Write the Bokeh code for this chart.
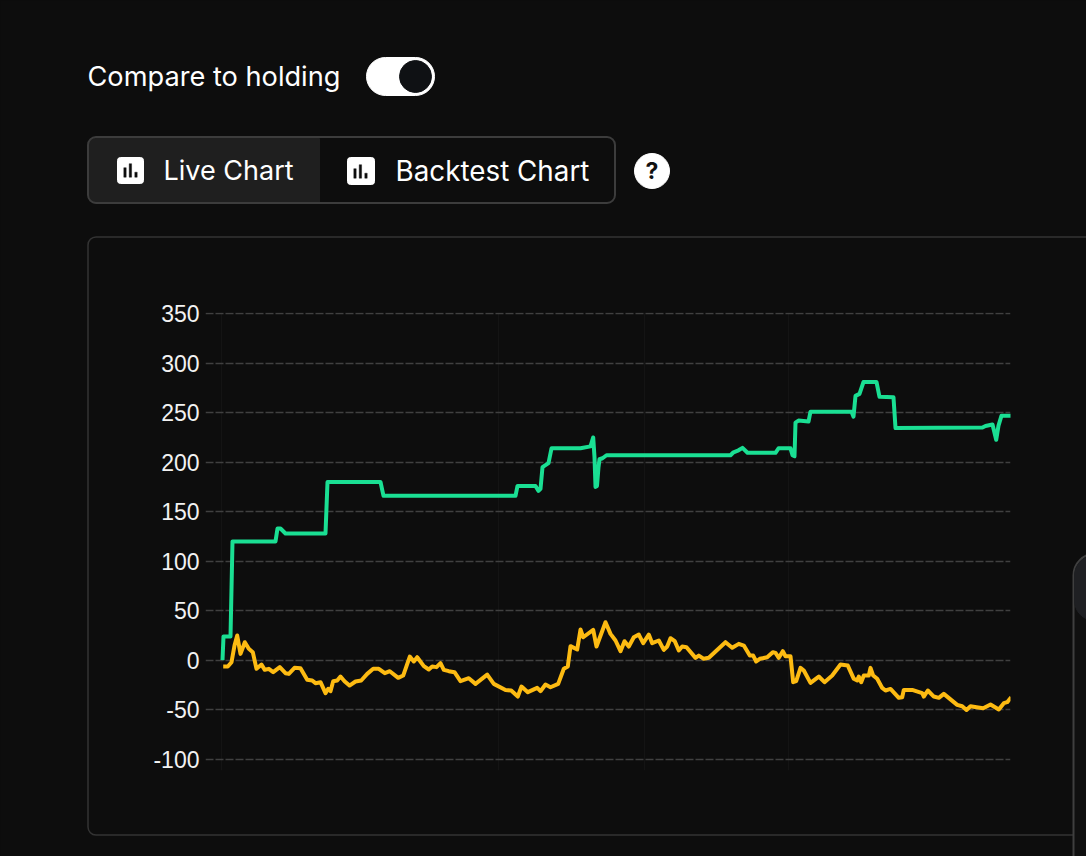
from bokeh.embed import file_html
from bokeh.resources import INLINE
from bokeh.plotting import figure
from bokeh.models import BoxAnnotation, Label, FixedTicker, Range1d

# ---- data
strategy_t = [0,1,8,10,53,55,58,63,103,105,158,161,293,295,313,316,318,320,326,329,358,368,370.7,372,373,374.5,376,377,380,384,508,511,516,520,525,553,556,568,570,572,573,576,586,588,629,631,633,637,641,654,657,671,673,760,763,770,773.7,776,779,788.7]
strategy_v = [0,24,24,120,120,133,133,128,128,180,180,166,166,176,176,171,173,195,199,214,214,216,225,205,175,176,195,203,204,207,207,210,212,214.5,209.5,209.5,214,214,207,206,240,242,241,251,251,246,267,269,281,281,266,265.5,234.5,235,236.5,238,222.6,237,247,247]

holding_t = [0.7,5.3,9,12,14.7,18,22.3,26.3,30.3,34,39,42.3,46.3,50.7,57.3,63,66.3,72,78,84.7,89.7,93,98,103,105.7,108,110.7,114.7,118,122,127,133,138.7,144.7,150.7,156.3,162.3,167.3,175.7,180.7,187.3,191.3,194.7,201.3,206.3,209.7,214,218,221.3,226.3,232,238,246.3,253,264.7,271.3,283,288.7,295.3,299,305.3,314.7,318,323,328,335.7,341.3,345.3,348,354.7,358,360.7,370.7,374,383,388,393,398,402,406.3,411.3,416.3,420.7,426.3,429.7,436.3,441.3,444.7,448,452.3,456.3,459.7,464,473,476.3,481.3,486.3,503,509.7,516.3,521.3,527.3,530.7,533.7,537.3,544.7,550.3,553,556.3,560.3,563,568,570.7,573.7,578,581.3,588,596.3,602,609.7,618,625.3,631.3,634.7,636.3,638.7,641.3,646.3,648,650.7,654.7,659.7,663,668,676.3,679.7,681.3,689.7,699.7,701.3,705.3,711.3,716.3,721.3,734.7,739.7,744,748,754,760.7,768,776.3,781.3,784.7,788.7]
holding_v = [-6.4,-6.4,-2,14.8,24.9,6.4,18.2,11.5,8.1,-8.7,-4.4,-9.7,-8.7,-12.1,-7,-13.1,-13.8,-7.7,-8.1,-19.8,-20.5,-23.2,-22.2,-33.3,-28.9,-31.3,-21.2,-20.5,-16.5,-21.2,-25.6,-21.5,-20.5,-13.8,-8.7,-8.7,-13.1,-11.1,-17.8,-15.5,3.7,-1.3,3,-6,-9.4,-6.4,-7,-3,-9.7,-11.1,-12.1,-21.2,-18.2,-23.9,-14.5,-23.9,-30,-30.6,-36.7,-26.6,-32.3,-27.9,-31.3,-24.6,-27.3,-23.9,-8.7,-6.4,14.2,10.8,31,23.2,30.6,13.8,38.4,26.6,19.9,9.1,19.2,13.8,23.2,25.9,17.2,25.9,17.2,19.9,10.4,13.8,22.2,19.2,9.8,13.8,13.1,2.4,4.7,1.4,2.4,18.2,12.5,16.5,14.8,4.7,4.7,-1.3,1.4,3,8.1,7.4,2.4,9.1,4,4,-22.2,-21.2,-7.7,-10.4,-22.9,-16.5,-22.2,-15.5,-4.4,-5.4,-18.8,-20.5,-16.5,-22.2,-15.5,-15.5,-7.7,-15.5,-18.8,-28,-30.6,-29,-38,-37.4,-30,-30,-33.3,-36.7,-30.6,-36.7,-38,-34,-45.1,-46.5,-50.2,-46.5,-47.5,-48.5,-44.8,-49.8,-43.4,-42.4,-37.4]

y_ticks = [-100,-50,0,50,100,150,200,250,300,350]
y_tick_text = {-100: "-100", -50: "-50"}
x_grid_ticks = [-1,276,422,566]

BG = "#0d0d0d"
WHITE = "#ffffff"

# ---- page furniture: a figure whose frame fills the whole page
page = figure(width=1086, height=856, output_backend="svg", toolbar_location=None,
              x_range=Range1d(0, 1086), y_range=Range1d(856, 0),
              min_border=0, background_fill_color=BG, border_fill_color=BG, outline_line_color=None)
page.axis.visible = False
page.grid.visible = False


def box(l, t, r, b, fill=None, line=None, radius=0, width=1):
    page.add_layout(BoxAnnotation(left=l, right=r, top=t, bottom=b,
                                  left_units="canvas", right_units="canvas",
                                  top_units="canvas", bottom_units="canvas",
                                  fill_color=fill, fill_alpha=1 if fill else 0,
                                  line_color=fill if fill and not line else line,
                                  line_alpha=1 if (line or fill) else 0, line_width=width,
                                  border_radius=radius))


def text(x, y, s, size, color=WHITE, weight="normal", align="left"):
    page.add_layout(Label(x=x, y=y, x_units="canvas", y_units="canvas", text=s,
                          text_font="Inter", text_font_size=f"{size}px", text_color=color,
                          text_font_style=weight, text_align=align, text_baseline="middle"))


def icon(l, t, s):
    box(l, t, l + s, t + s, fill=WHITE, radius=3)
    for dx, h in ((6.3, 9.5), (11.7, 13.5), (17.3, 5)):
        box(l + dx, t + s - 6.3 - h, l + dx + 2.4, t + s - 6.3, fill=BG, width=0.4)


box(87.5, 236.5, 1200, 834.5, line="#333333", radius=8, width=1.5)

text(87, 76, "Compare to holding", 27.2)
box(366, 57, 434, 95, fill=WHITE, radius=19)
box(399, 60, 431, 92, fill="#0f1114", radius=16)

box(88, 137, 319, 203, fill="#1f1f1f", radius=8)
box(200, 138, 319, 202, fill="#1f1f1f")
box(87.5, 136.5, 614.5, 202.5, line="#3c3c3c", radius=8, width=2)
icon(117, 157, 26)
text(163, 170, "Live Chart", 27)
icon(347, 157, 27)
text(395, 170, "Backtest Chart", 27.8)
box(634, 153, 669, 188, fill=WHITE, radius=18)
text(651.5, 170.5, "?", 23, color="#111111", weight="bold", align="center")

box(1073, 553, 1200, 900, fill="#101010", line="#3f3f3f", radius=22, width=2)
box(1074, 555, 1200, 620, fill="#1f2023", radius=20)

# ---- chart, laid transparently over the page
p = figure(width=1086, height=856, output_backend="svg", toolbar_location=None,
           x_range=Range1d(-17, 788), y_range=Range1d(-111.4, 351.2),
           min_border_left=205, min_border_right=76, min_border_top=312, min_border_bottom=86,
           background_fill_color=None, border_fill_color=None, outline_line_color=None,
           styles={"position": "absolute", "left": "0px", "top": "0px"})

p.xaxis.visible = False
p.yaxis.ticker = FixedTicker(ticks=y_ticks)
p.yaxis.major_label_overrides = y_tick_text
p.yaxis.axis_line_color = None
p.yaxis.major_tick_line_color = None
p.yaxis.minor_tick_line_color = None
p.yaxis.major_tick_out = 0
p.yaxis.major_label_text_color = "#f2f2f2"
p.yaxis.major_label_text_font = "Liberation Sans"
p.yaxis.major_label_text_font_size = "23px"
p.yaxis.major_label_standoff = 6

p.ygrid.ticker = FixedTicker(ticks=y_ticks)
p.ygrid.grid_line_color = "#404040"
p.ygrid.grid_line_dash = "8 2"
p.ygrid.grid_line_width = 1.3
p.xgrid.ticker = FixedTicker(ticks=x_grid_ticks)
p.xgrid.grid_line_color = "#141414"

p.line(holding_t, holding_v, line_color="#fdbb12", line_width=4, line_join="round")
p.line(strategy_t, strategy_v, line_color="#1adf93", line_width=4, line_join="round")

html = file_html([page, p], INLINE).replace("<body>", f'<body style="margin:0;overflow:hidden;background:{BG}">')
open("out.html", "w").write(html)
